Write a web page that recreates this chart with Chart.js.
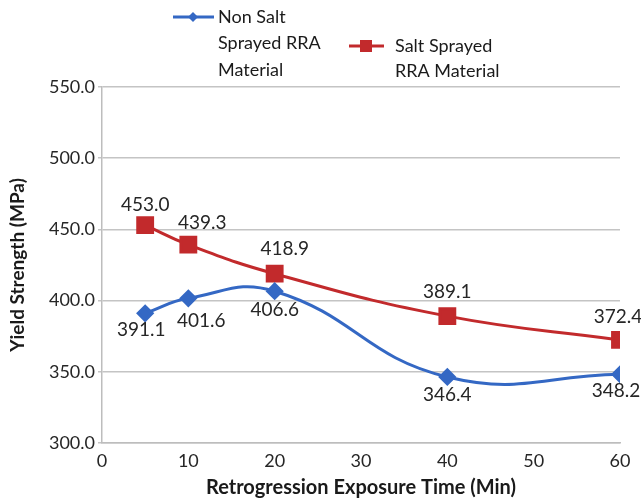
<!DOCTYPE html>
<html lang="en">
<head>
    <meta charset="UTF-8">
    <title>Yield Strength vs Retrogression Exposure Time</title>
    <script src="https://cdn.jsdelivr.net/npm/chart.js"></script>
    <style>
        html, body { margin: 0; padding: 0; background: #fff; }
        #grafico-box { width: 641px; height: 502px; }
    </style>
</head>
<body>
<div id="grafico-box">
    <canvas id="grafico"></canvas>
</div>

<script>
    const tempos = [5, 10, 20, 40, 60];
    const naoSalt = [391.1, 401.6, 406.6, 346.4, 348.2];
    const salt = [453.0, 439.3, 418.9, 389.1, 372.4];
    const nomeNaoSalt = ['Non Salt', 'Sprayed RRA', 'Material'];
    const nomeSalt = ['Salt Sprayed', 'RRA Material'];

    const azul = '#3468c4';
    const vermelho = '#c22a2c';
    const fonte = 'Lato, "Open Sans", sans-serif';

    // deslocamento dos rotulos de valor [dx, dy]
    const rotuloNaoSalt = [[-4, 17], [13, 23], [0, 19], [0, 18], [-4, 17]];
    const rotuloSalt = [[0, -20], [14, -22], [10, -25], [0, -24], [-2, -23]];

    const rotulosPlugin = {
        id: 'rotulos',
        afterDatasetsDraw(chart) {
            const ctx = chart.ctx;
            ctx.save();
            ctx.font = '19px ' + fonte;
            ctx.fillStyle = '#262626';
            ctx.textAlign = 'center';
            ctx.textBaseline = 'middle';
            [rotuloNaoSalt, rotuloSalt].forEach((desl, i) => {
                const meta = chart.getDatasetMeta(i);
                const valores = chart.data.datasets[i].data;
                meta.data.forEach((p, j) => {
                    ctx.fillText(valores[j].y.toFixed(1), p.x + desl[j][0], p.y + desl[j][1]);
                });
            });
            ctx.restore();
        }
    };

    const legendaPlugin = {
        id: 'legenda',
        afterDraw(chart) {
            const ctx = chart.ctx;
            ctx.save();
            ctx.font = '18px ' + fonte;
            ctx.textBaseline = 'middle';
            ctx.textAlign = 'left';

            // serie azul
            ctx.strokeStyle = azul;
            ctx.lineWidth = 3;
            ctx.beginPath();
            ctx.moveTo(173, 17);
            ctx.lineTo(214, 17);
            ctx.stroke();
            ctx.fillStyle = azul;
            ctx.beginPath();
            ctx.moveTo(193, 12);
            ctx.lineTo(198, 17);
            ctx.lineTo(193, 22);
            ctx.lineTo(188, 17);
            ctx.closePath();
            ctx.fill();
            ctx.fillStyle = '#1a1a1a';
            nomeNaoSalt.forEach((t, i) => ctx.fillText(t, 218, 17 + i * 26.5));

            // serie vermelha
            ctx.strokeStyle = vermelho;
            ctx.beginPath();
            ctx.moveTo(349, 46);
            ctx.lineTo(384, 46);
            ctx.stroke();
            ctx.fillStyle = vermelho;
            ctx.fillRect(360, 40, 12, 12);
            ctx.fillStyle = '#1a1a1a';
            nomeSalt.forEach((t, i) => ctx.fillText(t, 395, 46 + i * 25));
            ctx.restore();
        }
    };

    const ctx = document.getElementById('grafico').getContext('2d');

    const chartjs = new Chart(ctx, {
        type: 'line',
        data: {
            datasets: [{
                label: nomeNaoSalt.join(' '),
                data: tempos.map((t, i) => ({ x: t, y: naoSalt[i] })),
                borderColor: azul,
                backgroundColor: azul,
                borderWidth: 3,
                pointStyle: 'rectRot',
                pointRadius: 7,
                pointHoverRadius: 7,
                tension: 0.45
            }, {
                label: nomeSalt.join(' '),
                data: tempos.map((t, i) => ({ x: t, y: salt[i] })),
                borderColor: vermelho,
                backgroundColor: vermelho,
                borderWidth: 3,
                pointStyle: 'rect',
                pointRadius: 10.5,
                pointHoverRadius: 10.5,
                tension: 0.45
            }]
        },
        options: {
            responsive: true,
            maintainAspectRatio: false,
            animation: false,
            layout: {
                padding: { top: 87, right: 21, bottom: 0, left: 0 }
            },
            plugins: {
                legend: { display: false },
                tooltip: { enabled: false }
            },
            scales: {
                x: {
                    type: 'linear',
                    min: 0,
                    max: 60,
                    afterFit: s => { s.height = 59; },
                    ticks: {
                        stepSize: 10,
                        color: '#262626',
                        padding: 7,
                        font: { family: fonte, size: 18 }
                    },
                    grid: { display: false, drawTicks: false },
                    border: { color: '#bdbdbd', width: 1.5 },
                    title: {
                        display: true,
                        text: 'Retrogression Exposure Time (Min)',
                        color: '#1a1a1a',
                        padding: { top: 4, bottom: 2 },
                        font: { family: fonte, size: 20, weight: 'bold' }
                    }
                },
                y: {
                    min: 300,
                    max: 550,
                    afterFit: s => { s.width = 102; },
                    ticks: {
                        stepSize: 50,
                        color: '#262626',
                        padding: 3,
                        font: { family: fonte, size: 18 },
                        callback: v => v.toFixed(1)
                    },
                    grid: { color: '#c4c4c4', lineWidth: 1.5, tickLength: 4 },
                    border: { color: '#bdbdbd', width: 1.5 },
                    title: {
                        display: true,
                        text: 'Yield Strength (MPa)',
                        color: '#1a1a1a',
                        padding: { top: 6, bottom: 2 },
                        font: { family: fonte, size: 19, weight: 'bold' }
                    }
                }
            }
        },
        plugins: [rotulosPlugin, legendaPlugin]
    });
</script>
</body>
</html>
